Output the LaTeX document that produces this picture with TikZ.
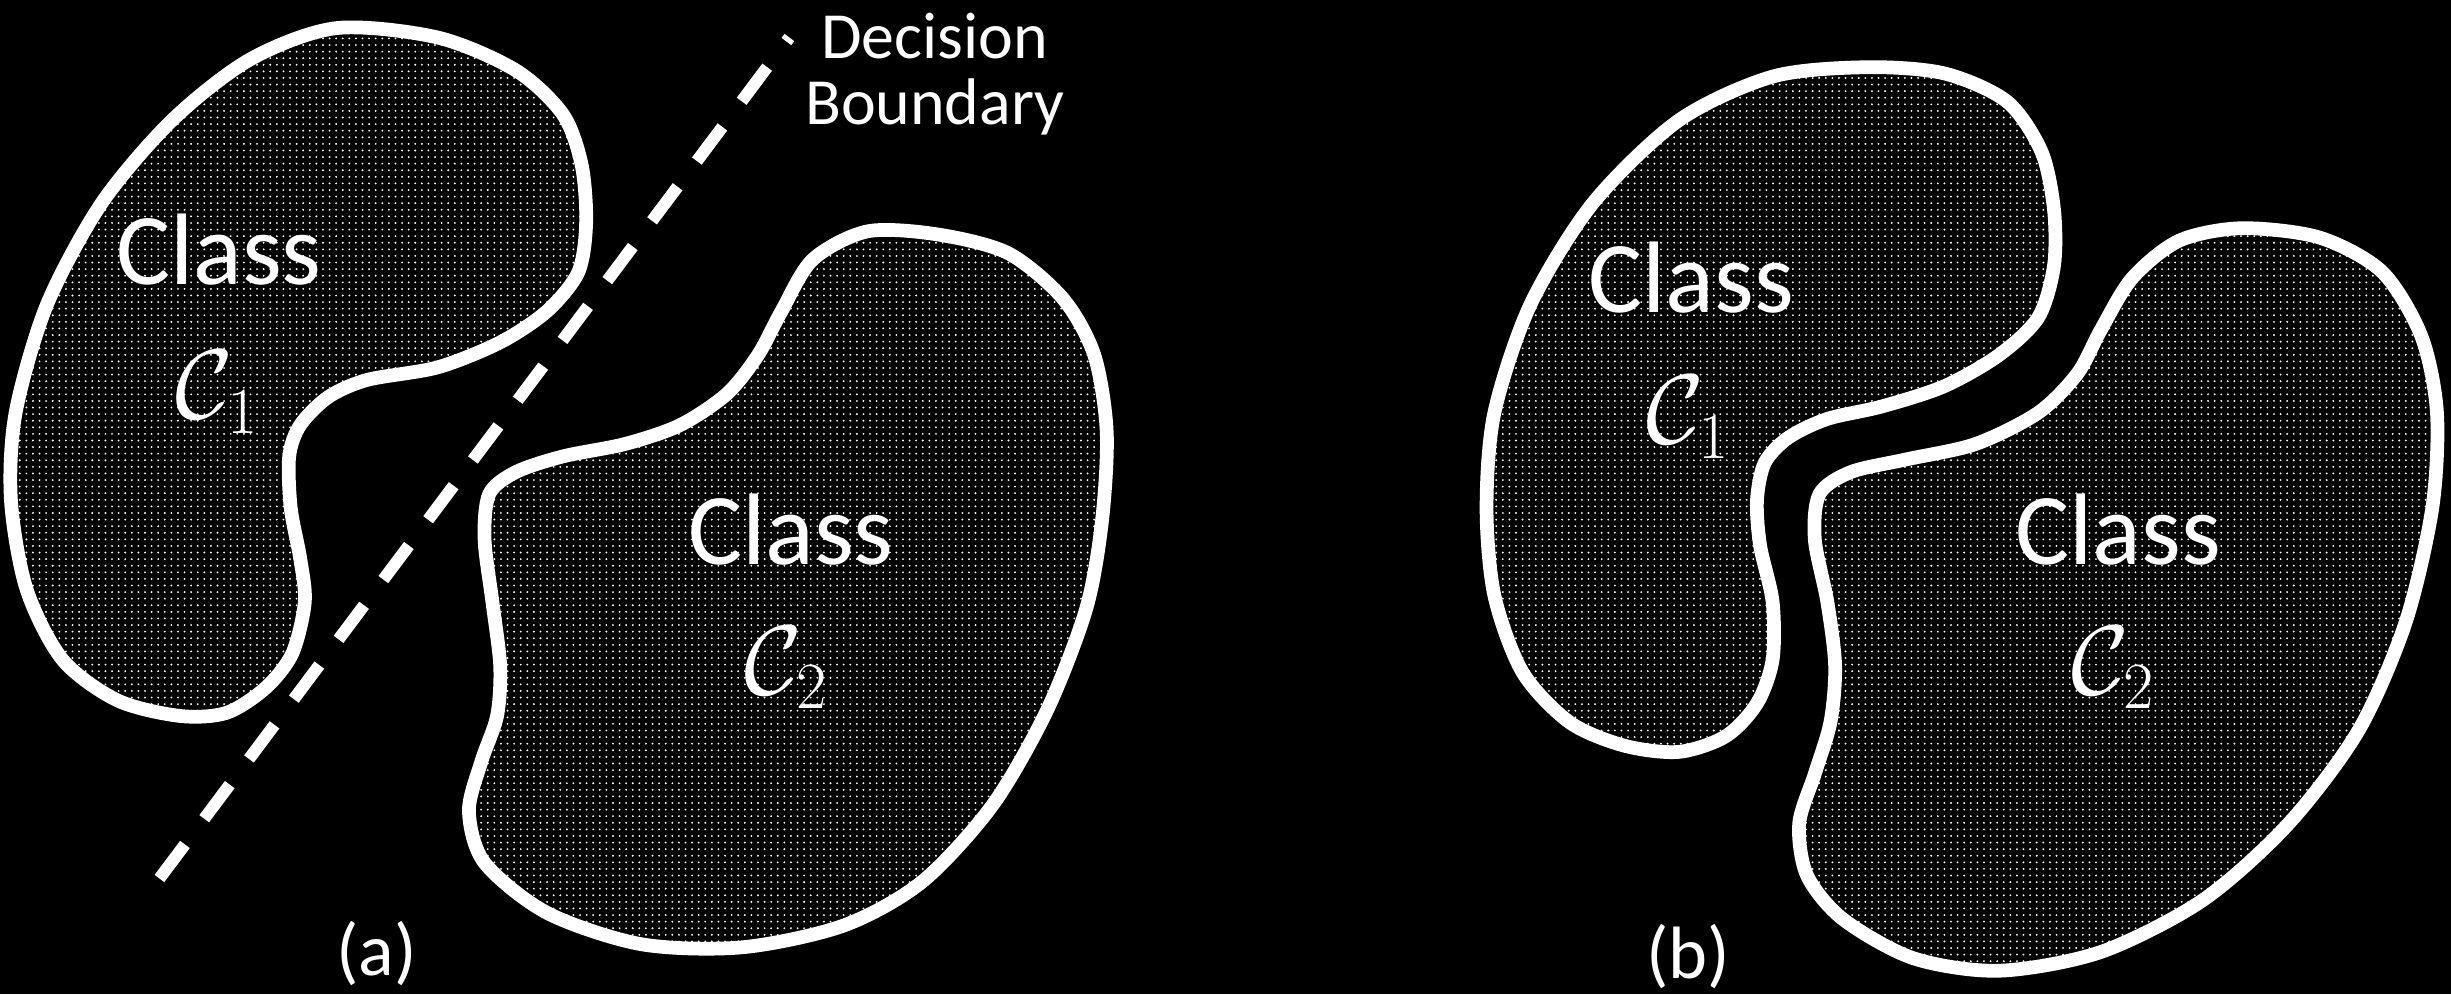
\RequirePackage{fix-cm}
\documentclass[tikz,border=0pt]{standalone}
\usepackage{amsmath,amssymb}
\usepackage{fontspec}
\setmainfont{Carlito}
\DeclareMathSizes{36}{36}{24}{18}
\usepackage{tikz}
\usetikzlibrary{patterns.meta, positioning}

\begin{document}
\begin{tikzpicture}[
    x=0.02cm, y=-0.02cm,
    blob/.style={draw=white, line width=5pt, line join=round,
                 pattern={Dots[distance=2.4pt, radius=0.38pt]}, pattern color=white},
    classtxt/.style={text=white, inner sep=0pt, anchor=base,
                     font=\fontsize{37}{40}\selectfont},
    symtxt/.style={text=white, inner sep=0pt, anchor=base,
                   font=\fontsize{36}{40}\selectfont},
    paneltxt/.style={text=white, inner sep=0pt, font=\fontsize{27}{30}\selectfont},
    boundary/.style={draw=white, line width=4.4pt, dash pattern=on 15.5pt off 11.7pt}
    ]
    \fill[black] (0,0) rectangle (1568,636);

    % panel (a)
    \draw[blob] plot[smooth cycle] coordinates {
        (215,18) (280,24) (330,45) (360,73) (372,105) (375,142) (370,174)
        (350,199) (320,219) (280,235) (235,243) (210,254) (192,272) (185,292)
        (186,325) (192,357) (195,385) (187,418) (170,440) (145,456) (115,458)
        (75,448) (40,422) (17,377) (7,320) (10,264) (30,195) (65,130)
        (110,77) (160,38)};
    \draw[blob] plot[smooth cycle] coordinates {
        (555,148) (600,150) (645,162) (680,191) (700,227) (708,276) (705,333)
        (695,389) (670,454) (635,515) (590,564) (540,592) (475,606) (410,604)
        (350,584) (310,552) (300,519) (308,487) (318,458) (320,426) (315,385)
        (310,345) (313,316) (330,302) (360,292) (400,284) (435,272) (465,252)
        (485,227) (500,199) (520,166)};
    \coordinate (dbbot) at (102,562);
    \coordinate (dbtop) at (505,24);
    \draw[boundary] (dbbot) -- (dbtop);
    \node[text=white, inner sep=0pt, anchor=north, align=center,
          font=\fontsize{24}{24}\selectfont] (dblabel) at (598,8) {Decision\\Boundary};
    \node[classtxt] (classA) at (140,182) {Class};
    \node[symtxt] (symA) at (139,268) {$\mathcal{C}_1$};
    \node[classtxt] (classB) at (506,361) {Class};
    \node[symtxt] (symB) at (503,444) {$\mathcal{C}_2$};
    \node[paneltxt] (tagA) at (241,610) {(a)};

    % panel (b)
    \draw[blob] plot[smooth cycle] coordinates {
        (1194,43) (1244,47) (1284,65) (1306,97) (1314,134) (1314,170) (1304,203)
        (1279,227) (1244,247) (1204,260) (1169,268) (1144,280) (1129,296)
        (1124,320) (1126,349) (1134,385) (1134,422) (1124,450) (1104,471)
        (1074,481) (1039,477) (1004,462) (974,430) (956,381) (951,325)
        (956,264) (979,195) (1019,130) (1074,77) (1134,49)};
    \draw[blob] plot[smooth cycle] coordinates {
        (1434,146) (1484,152) (1524,174) (1549,215) (1559,264) (1556,325)
        (1539,398) (1509,467) (1464,527) (1409,576) (1344,609) (1279,621)
        (1224,613) (1179,588) (1156,560) (1151,527) (1161,495) (1171,462)
        (1174,426) (1169,385) (1161,345) (1164,316) (1184,302) (1219,294)
        (1264,284) (1304,264) (1329,239) (1344,211) (1364,178) (1394,154)};
    \node[classtxt] (classC) at (1082,200) {Class};
    \node[symtxt] (symC) at (1080,284) {$\mathcal{C}_1$};
    \node[classtxt] (classD) at (1355,361) {Class};
    \node[symtxt] (symD) at (1352,444) {$\mathcal{C}_2$};
    \node[paneltxt] (tagB) at (1080,612) {(b)};
\end{tikzpicture}
\end{document}
